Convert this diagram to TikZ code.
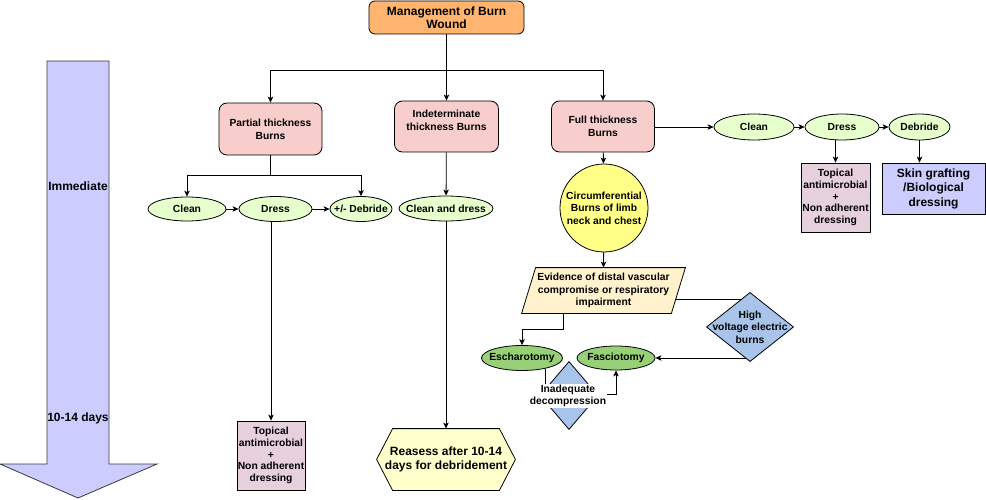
\documentclass[tikz,border=0pt]{standalone}
\usepackage{fontspec}
\setmainfont{Liberation Sans}
\usetikzlibrary{arrows.meta,shapes.geometric,backgrounds}
\definecolor{orangef}{HTML}{FFB570}
\definecolor{pinkf}{HTML}{F8CECC}
\definecolor{lgreenf}{HTML}{E6FFCC}
\definecolor{greenf}{HTML}{97D077}
\definecolor{topf}{HTML}{E6D0DE}
\definecolor{lilacf}{HTML}{CCCCFF}
\definecolor{circf}{HTML}{FFFF88}
\definecolor{paraf}{HTML}{FFF2CC}
\definecolor{hexf}{HTML}{FFFFCC}
\definecolor{diaf}{HTML}{A9C4EB}
\definecolor{arrline}{HTML}{36393D}
\tikzset{
  base/.style={font=\fontsize{10.3}{13}\selectfont\bfseries, inner sep=0pt, line width=0.8pt, draw=black},
  mgmtbox/.style={base, rectangle, rounded corners=6pt, fill=orangef, align=center, font=\fontsize{12}{13.5}\selectfont\bfseries},
  pinkbox/.style={base, rectangle, rounded corners=8pt, fill=pinkf, align=center},
  oval/.style={base, ellipse, execute at begin node={\hbox to 0pt\bgroup\hss}, execute at end node={\hss\egroup}},
  lgoval/.style={oval, fill=lgreenf},
  goval/.style={oval, fill=greenf},
  topbox/.style={base, rectangle, fill=topf, align=center, font=\fontsize{10.3}{11.8}\selectfont\bfseries},
  skinbox/.style={base, rectangle, fill=lilacf, align=center, font=\fontsize{12}{14.5}\selectfont\bfseries},
  circbox/.style={base, circle, fill=circf, align=center, font=\fontsize{10.3}{12.5}\selectfont\bfseries},
  holder/.style={base, draw=none, rectangle, align=center},
  shapeline/.style={line width=0.8pt, draw=black},
  conn/.style={line width=0.8pt},
  arr/.style={line width=0.8pt, -{Stealth[length=6pt,width=5.5pt,inset=1.5pt]}},
  timetext/.style={font=\fontsize{12}{14}\selectfont\bfseries, inner sep=0pt}
}
\begin{document}
\begin{tikzpicture}[x=1pt,y=-1pt]
\useasboundingbox (0,0) rectangle (986,500);

% time arrow
\filldraw[fill=lilacf, draw=arrline, line width=0.8pt]
  (47,61) -- (109,61) -- (109,464) -- (157,464) -- (78,498) -- (0,464) -- (47,464) -- cycle;
\node[timetext] (tImm) at (78,186) {Immediate};
\node[timetext] (tDays) at (78,418) {10-14 days};

% main boxes
\node[mgmtbox, minimum width=155pt, minimum height=33pt] (mgmt) at (446.5,17.5) {Management of Burn\\Wound};
\node[pinkbox, minimum width=103pt, minimum height=52pt] (partial) at (270.5,129) {Partial thickness\\Burns};
\node[pinkbox, minimum width=104pt, minimum height=51pt] (indet) at (446.5,126.5) {};
\node[holder] (indettxt) at (446.5,120.5) {Indeterminate\\thickness Burns};
\node[pinkbox, minimum width=103pt, minimum height=51pt] (full) at (603,126.5) {Full thickness\\Burns};

% partial thickness branch
\node[lgoval, minimum width=78pt, minimum height=24pt] (clean1) at (187,209) {Clean};
\node[lgoval, minimum width=73pt, minimum height=25pt] (dress1) at (275.5,209) {Dress};
\node[lgoval, minimum width=62pt, minimum height=25pt] (deb1) at (361,209) {+/- Debride};
\node[topbox, minimum width=68pt, minimum height=69pt] (top1) at (271,455.5) {Topical\\antimicrobial\\+\\Non adherent\\dressing};

% indeterminate branch
\node[lgoval, minimum width=94pt, minimum height=25pt] (cd) at (446,208.5) {Clean and dress};
\node[holder, minimum width=138pt, minimum height=61pt, font=\fontsize{12}{14.5}\selectfont\bfseries] (hex) at (446,459.5) {Reasess after 10-14\\days for debridement};
\begin{scope}[on background layer]
\filldraw[shapeline, fill=hexf] (hex.west) -- ([xshift=16pt]hex.north west) -- ([xshift=-16pt]hex.north east) -- (hex.east) -- ([xshift=-16pt]hex.south east) -- ([xshift=16pt]hex.south west) -- cycle;
\end{scope}

% full thickness branch
\node[circbox, minimum size=88pt] (circ) at (604,208) {Circumferential\\Burns of limb\\neck and chest};
\node[holder, minimum width=163pt, minimum height=45pt, font=\fontsize{10.3}{12.5}\selectfont\bfseries] (para) at (603.5,290.5) {Evidence of distal vascular\\compromise or respiratory\\impairment};
\begin{scope}[on background layer]
\filldraw[shapeline, fill=paraf] ([xshift=14pt]para.north west) -- (para.north east) -- ([xshift=-14pt]para.south east) -- (para.south west) -- cycle;
\end{scope}
\node[goval, minimum width=81pt, minimum height=25pt] (esc) at (522,358) {Escharotomy};
\node[goval, minimum width=78pt, minimum height=24pt] (fasc) at (616,358) {Fasciotomy};
\node[holder, minimum width=86pt, minimum height=68pt, font=\fontsize{10.3}{12.5}\selectfont\bfseries] (hv) at (750,327) {High\\voltage electric\\burns};
\node[holder, minimum width=57pt, minimum height=67pt] (idc) at (569,395.5) {};
\begin{scope}[on background layer]
\filldraw[shapeline, fill=diaf] (hv.north) -- (hv.east) -- (hv.south) -- (hv.west) -- cycle;
\filldraw[shapeline, fill=diaf] (idc.north) -- (idc.east) -- (idc.south) -- (idc.west) -- cycle;
\end{scope}

\node[lgoval, minimum width=80pt, minimum height=26pt] (clean2) at (754,127) {Clean};
\node[lgoval, minimum width=74pt, minimum height=26pt] (dress2) at (842,127) {Dress};
\node[lgoval, minimum width=61pt, minimum height=26pt] (deb2) at (919.5,127) {Debride};
\node[topbox, minimum width=69pt, minimum height=69pt] (top2) at (835.5,197.5) {Topical\\antimicrobial\\+\\Non adherent\\dressing};
\node[skinbox, minimum width=103pt, minimum height=51pt] (skin) at (933.5,188.5) {Skin grafting\\/Biological\\dressing};

% connectors
\coordinate (jt) at (446.5,70);
\draw[conn] (mgmt) -- (jt);
\draw[arr] (jt) -| (partial.north);
\draw[arr] (jt) -- (indet.north);
\draw[arr] (jt) -| (full.north);

\coordinate (jp) at (270.5,175);
\draw[conn] (partial) -- (jp);
\draw[arr] (jp) -| (clean1.north);
\draw[arr] (jp) -| (deb1.north);
\draw[arr] (clean1) -- (dress1);
\draw[arr] (dress1) -- (deb1);
\draw[arr] (top1.north |- dress1.south) -- (top1.north);

\draw[arr] (indet) -- (cd);
\draw[arr] (cd) -- (hex.north);

\draw[arr] (full) -- (circ);
\draw[arr] (circ) -- (para.north);
\draw[arr] (para.south -| esc.east) -- ++(0,16) -| (esc.north);
\coordinate (pA) at (675.4,299);
\coordinate (hvA) at (741.6,299);
\draw[conn] (pA) -- (hvA);
\coordinate (hvB) at (746.2,358);
\draw[arr] (hvB) -- (fasc.east);

\coordinate (jd) at (616,394);
\draw[arr] (esc.-25) |- (jd) -- (fasc.south);
\node[base, draw=none, fill=white, align=center, inner sep=1pt, font=\fontsize{10.3}{12}\selectfont\bfseries] (lbl) at (568,396) {Inadequate\\decompression};

\draw[arr] (full.east |- clean2) -- (clean2);
\draw[arr] (clean2) -- (dress2);
\draw[arr] (dress2) -- (deb2);
\draw[arr] (top2.north |- dress2.south) -- (top2.north);
\draw[arr] (deb2.south) -- (deb2.south |- skin.north);
\end{tikzpicture}
\end{document}
